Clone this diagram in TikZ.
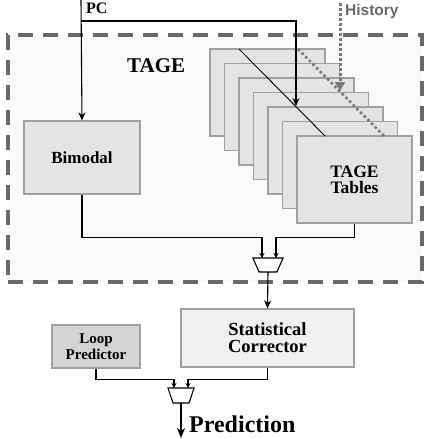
\documentclass[tikz,border=0pt]{standalone}
\usepackage{fontspec}
\setmainfont{Liberation Serif}
\newfontfamily\histfont{Liberation Sans}
\usepackage{tikz}
\usetikzlibrary{calc,positioning,arrows.meta}
\usepackage{xcolor}
\definecolor{boxgray}{RGB}{228,228,228}
\definecolor{scgray}{RGB}{240,240,240}
\definecolor{loopgray}{RGB}{212,212,212}
\definecolor{edgegray}{RGB}{160,160,160}
\definecolor{dashgray}{RGB}{105,105,105}
\definecolor{histgray}{RGB}{120,120,120}
\definecolor{bggray}{RGB}{250,250,250}

\begin{document}
\begin{tikzpicture}[x=1pt,y=-1pt,
  blk/.style={draw=edgegray, line width=1.2pt, fill=boxgray, inner sep=0pt, align=center},
  arr/.style={line width=1.1pt, -{Stealth[length=8pt,width=7pt]}},
  arrsm/.style={line width=1.1pt, -{Stealth[length=5pt,width=5pt]}},
  muxbox/.style={draw, line width=1.1pt, fill=white}]
  \useasboundingbox (0,0) rectangle (425,439);

  % TAGE region
  \node[draw=dashgray, dash pattern=on 15pt off 10pt, line width=4pt, fill=bggray,
        minimum width=414pt, minimum height=247pt, inner sep=0pt] (tage) at (215,158.5) {};
  \node[anchor=base west, inner sep=0pt, font=\bfseries\fontsize{21}{21}\selectfont] (tagelbl) at (127,72) {TAGE};

  % Tagged tables
  \foreach \i in {1,...,6}
    \node[blk, minimum width=115pt, minimum height=87pt] (tbl\i) at ({267.5+14.5*(\i-1)},{92.5+14.5*(\i-1)}) {};
  \node[blk, minimum width=115pt, minimum height=87pt, font=\bfseries\fontsize{17.5}{16}\selectfont] (tbl7) at (354.5,179.5) {TAGE\\Tables};

  % Index / history lines across the tables
  \coordinate (solA) at (239,49);
  \coordinate (solB) at (325,136);
  \draw[line width=0.9pt] (solA) -- (solB);
  \coordinate (dotA) at (298,49);
  \coordinate (dotB) at (384,136);
  \draw[histgray, line width=2.6pt, dash pattern=on 2.6pt off 2.6pt] (dotA) -- (dotB);

  % Bimodal
  \node[blk, minimum width=116pt, minimum height=73pt, font=\bfseries\fontsize{17}{17}\selectfont] (bimodal) at (82,157.5) {Bimodal};

  % PC
  \coordinate (pctop) at (81,0);
  \coordinate (pcsplit) at (81,21);
  \coordinate (pcend) at (296,106);
  \node[anchor=base west, inner sep=0pt, font=\bfseries\fontsize{16}{16}\selectfont] (pclbl) at (86,13) {PC};
  \draw[arr] (pctop) -- (bimodal.north);
  \draw[arr] (pcsplit) -| (pcend);

  % History
  \coordinate (histtop) at (340,3);
  \coordinate (histend) at (340,91);
  \node[anchor=base west, inner sep=0pt, text=dashgray, font=\histfont\bfseries\fontsize{15.5}{16}\selectfont] (histlbl) at (345,15) {History};
  \draw[histgray, line width=3pt, dash pattern=on 3pt off 2pt, -{Triangle[length=9pt,width=10pt]}] (histtop) -- (histend);

  % First mux
  \coordinate (m1a) at (262,258);
  \coordinate (m1b) at (276,258);
  \coordinate (m1out) at (268,272);
  \draw[muxbox] (253,258) -- (283,258) -- (277,272) -- (259,272) -- cycle;
  \draw[arrsm] (bimodal.south) -- ++(0,43) -| (m1a);
  \draw[arrsm] (tbl7.south) -- ++(0,14) -| (m1b);

  % Statistical corrector and loop predictor
  \node[blk, fill=scgray, minimum width=173pt, minimum height=58pt, font=\bfseries\fontsize{18.5}{17}\selectfont] (sc) at (267.5,338) {Statistical\\Corrector};
  \node[blk, fill=loopgray, minimum width=88pt, minimum height=43pt, font=\bfseries\fontsize{15}{16}\selectfont] (loop) at (96,346.5) {Loop\\Predictor};
  \draw[arr] (m1out) -- (sc.north);

  % Final mux
  \coordinate (m2a) at (174,388);
  \coordinate (m2b) at (188,388);
  \coordinate (m2out) at (181,403);
  \coordinate (predend) at (181,438);
  \draw[muxbox] (168,388) -- (194,388) -- (189,403) -- (173,403) -- cycle;
  \draw[arrsm] (loop.south) -- ++(0,11) -| (m2a);
  \draw[arrsm] (sc.south) -- ++(0,12) -| (m2b);
  \draw[line width=2pt, -{Stealth[length=10pt,width=8pt]}] (m2out) -- (predend);
  \node[anchor=base west, inner sep=0pt, font=\bfseries\fontsize{24}{24}\selectfont] (pred) at (189,432) {Prediction};
\end{tikzpicture}
\end{document}
